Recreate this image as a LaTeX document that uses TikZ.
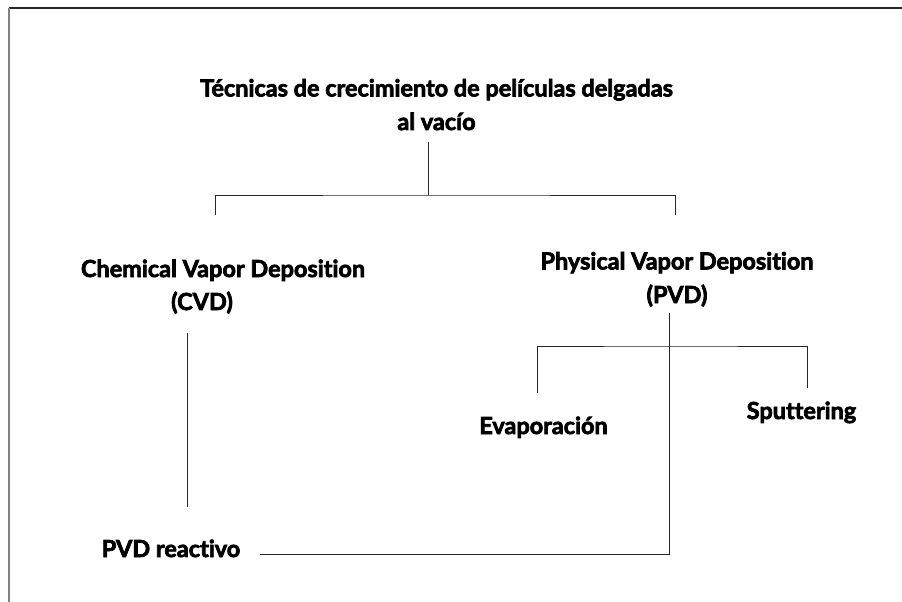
\documentclass[tikz,border=0pt]{standalone}
\usepackage{fontspec}
\setmainfont{Lato}[Ligatures=NoCommon, BoldFeatures={FakeBold=3}]

\tikzset{
    txt/.style={font=\bfseries\fontsize{17.6}{25.2}\selectfont, inner sep=0pt, anchor=base, align=center},
    branch/.style={line width=0.6pt, black!85}
}

\begin{document}
\begin{tikzpicture}[x=0.75pt, y=-0.75pt]
        \useasboundingbox (0,0) rectangle (902,602);
        
        % frame
        \draw[line width=1pt, black!85] (9,8) -- (902,8);
        \draw[line width=0.8pt, gray] (9,8) -- (9,602);
        
        \node[txt] (title) at (436.5,130) {Técnicas de crecimiento de películas delgadas\\al vacío};
        \node[txt] (cvd) at (223,277) {Chemical Vapor Deposition};
        \node[txt] (cvdabbr) at (202,310) {(CVD)};
        \node[txt] (pvd) at (677,303) {Physical Vapor Deposition\\(PVD)};
        \node[txt] (evap) at (543.5,434) {Evaporación};
        \node[txt] (sput) at (801.5,419) {Sputtering};
        \node[txt] (reac) at (171,557) {PVD reactivo};
        
        \coordinate (titlefoot) at (428,142);
        \coordinate (fork) at (428,195);
        \coordinate (cvdhead) at (215,215);
        \coordinate (pvdhead) at (675,215);
        \coordinate (cvdfoot) at (187,333);
        \coordinate (reachead) at (187,507);
        \coordinate (pvdfoot) at (669,313);
        \coordinate (pvdfork) at (669,346);
        \coordinate (evaphead) at (537,393);
        \coordinate (sputhead) at (807,388);
        \coordinate (reactail) at (260,554);
        
        \draw[branch] (titlefoot) -- (fork);
        \draw[branch] (cvdhead) |- (fork) -| (pvdhead);
        \draw[branch] (cvdfoot) -- (reachead);
        \draw[branch] (evaphead) |- (pvdfork) -| (sputhead);
        \draw[branch] (pvdfoot) |- (reactail);
        
\end{tikzpicture}
\end{document}
